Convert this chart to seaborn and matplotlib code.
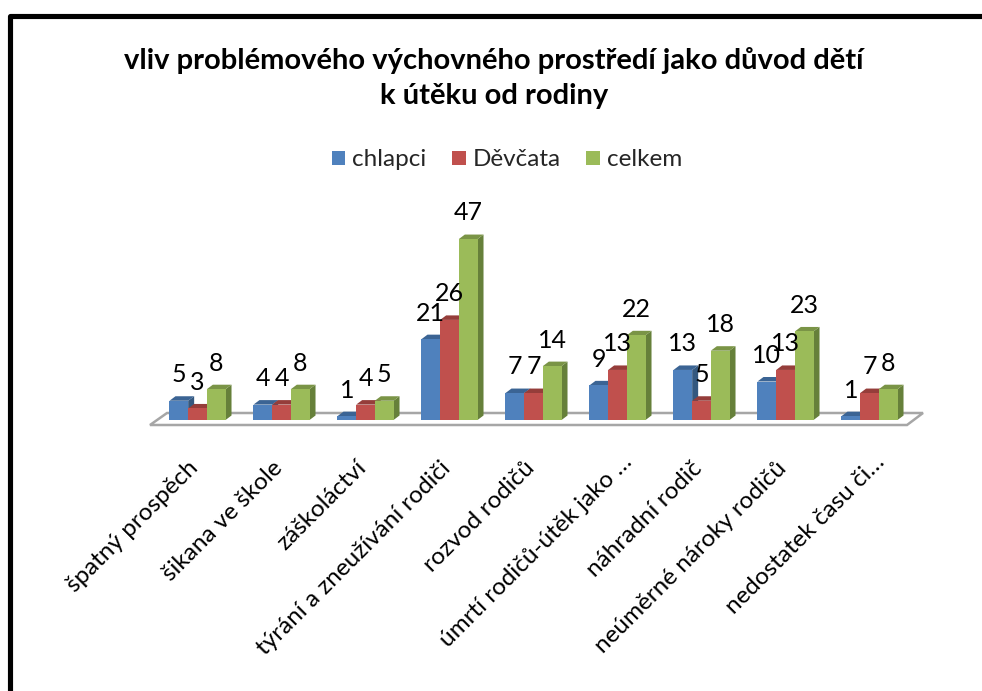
import matplotlib
matplotlib.use("Agg")
import matplotlib.pyplot as plt
from matplotlib.lines import Line2D
from matplotlib.patches import Polygon
from matplotlib.transforms import Affine2D
import pandas as pd
import seaborn as sns

# data
kategorie = ["špatný prospěch", "šikana ve škole", "záškoláctví",
             "týrání a zneužívání rodiči", "rozvod rodičů", "úmrtí rodičů-útěk jako …",
             "náhradní rodič", "neúměrné nároky rodičů", "nedostatek času či…"]
chlapci = [5, 4, 1, 21, 7, 9, 13, 10, 1]
devcata = [3, 4, 4, 26, 7, 13, 5, 13, 7]
celkem = [8, 8, 5, 47, 14, 22, 18, 23, 8]
serie = ["chlapci", "Děvčata", "celkem"]

barvy = ["#4F81BD", "#C0504D", "#9BBB59"]
vrch = ["#3B6494", "#953D3A", "#7A9446"]
bok = ["#34587F", "#7F3331", "#66803A"]

sns.set_theme(style="white")
plt.rcParams["font.family"] = ["Lato", "DejaVu Sans"]

W, H = 982, 691
df = pd.DataFrame({"kategorie": kategorie * 3,
                   "pohlavi": sum([[s] * len(kategorie) for s in serie], []),
                   "pocet": chlapci + devcata + celkem})

fig = plt.figure(figsize=(W / 100, H / 100), dpi=100, facecolor="white")
# 84 px per group, 3.85 px per unit, baseline at y=420
ymax = 55
ax = fig.add_axes([155.5 / W, (H - 420) / H, 756 / W, ymax * 3.85 / H])
sns.barplot(data=df, x="kategorie", y="pocet", hue="pohlavi", order=kategorie, hue_order=serie,
            palette=barvy, width=0.667, gap=0, saturation=1, linewidth=0, ax=ax, zorder=3)
ax.set_xlim(-0.5, 8.5)
ax.set_ylim(0, ymax)
ax.set_xlabel("")
ax.set_ylabel("")
ax.set_yticks([])
sns.despine(ax=ax, left=True, bottom=True)
ax.patch.set_alpha(0)
ax.tick_params(axis="x", length=0, pad=29)
ax.set_xticks(range(len(kategorie)))
ax.set_xticklabels(kategorie, rotation=45, ha="right", rotation_mode="anchor", fontsize=17.5, color="black")
# truncated labels stick out further to the right
for lab in ax.get_xticklabels():
    posun = (4, 9) if lab.get_text().endswith("…") else (-10, 3)
    lab.set_transform(lab.get_transform() + Affine2D().translate(*posun))

# 3D look: side and top faces built from the bars
dx = 6 / 84
dy = 4.5 / 3.85
for i, cont in enumerate(ax.containers):
    for b in cont:
        x0, x1, h = b.get_x(), b.get_x() + b.get_width(), b.get_height()
        ax.add_patch(Polygon([(x1, 0), (x1 + dx, dy), (x1 + dx, h + dy), (x1, h)], fc=bok[i], ec="none",
                             zorder=2, clip_on=False))
        ax.add_patch(Polygon([(x0, h), (x0 + dx, h + dy), (x1 + dx, h + dy), (x1, h)], fc=vrch[i], ec="none",
                             zorder=2, clip_on=False))
    ax.bar_label(cont, labels=[str(int(v)) for v in cont.datavalues], padding=10.5, fontsize=18, color="black",
                 clip_on=False, zorder=5)

# floor
px = Affine2D().scale(1, -1).translate(0, H)
fig.add_artist(Polygon([(150, 425), (167, 413), (923, 413), (907, 425)], closed=True, fc="white",
                       ec="#A6A6A6", lw=1.8, transform=px, zorder=0))

# frame only on top and left
fig.add_artist(Line2D([9.5, 9.5, W], [H, 15.5, 15.5], color="black", lw=3.7, transform=px,
                      solid_joinstyle="round", zorder=6))

fig.text(494 / W, 1 - 78 / H, "vliv problémového výchovného prostředí jako důvod dětí\nk útěku od rodiny",
         ha="center", va="center", fontsize=21, fontweight="bold", color="black", linespacing=1.39)

sns.move_legend(ax, loc="center", bbox_to_anchor=(507 / W, 1 - 160 / H), bbox_transform=fig.transFigure,
                ncol=3, frameon=False, title=None, fontsize=17.5, handlelength=0.555, handleheight=0.555,
                handletextpad=0.29, columnspacing=1.05)

fig.savefig("out.png", dpi=100, facecolor="white")
